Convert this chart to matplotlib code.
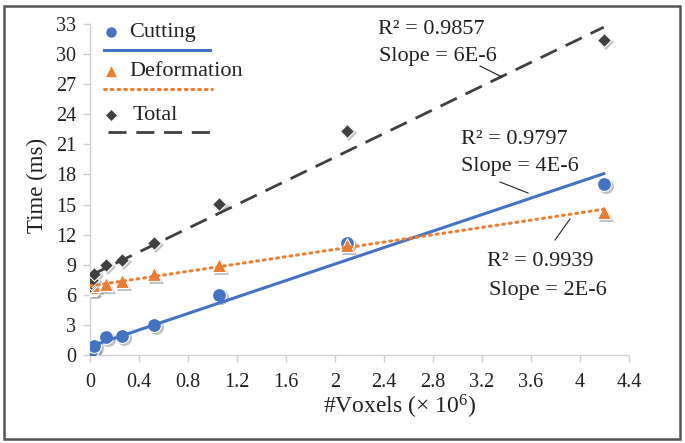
import numpy as np
import matplotlib
matplotlib.use("Agg")
import matplotlib.pyplot as plt
from matplotlib.transforms import offset_copy
from matplotlib.patches import Rectangle

plt.rcParams['font.family'] = ['Liberation Serif', 'DejaVu Serif']
plt.rcParams['mathtext.fontset'] = 'custom'
plt.rcParams['mathtext.rm'] = 'Liberation Serif'
plt.rcParams['mathtext.it'] = 'Liberation Serif:italic'

# data (x in millions of voxels, times in ms)
voxels = [0.004, 0.008, 0.016, 0.033, 0.131, 0.262, 0.524, 1.049, 2.097, 4.194]
cutting = [0.1, 0.3, 0.5, 0.9, 1.8, 1.9, 3.0, 6.0, 11.2, 17.0]
deformation = [6.6, 6.7, 6.8, 7.0, 7.1, 7.4, 8.1, 9.0, 11.0, 14.3]
total = [6.9, 7.2, 7.5, 8.1, 9.0, 9.5, 11.2, 15.1, 22.3, 31.4]
series_names = ["Cutting", "Deformation", "Total"]
r2_labels = ["R\u00b2 = 0.9797", "R\u00b2 = 0.9939", "R\u00b2 = 0.9857"]
slope_labels = ["Slope = 4E-6", "Slope = 2E-6", "Slope = 6E-6"]
xticks = [0, 0.4, 0.8, 1.2, 1.6, 2.0, 2.4, 2.8, 3.2, 3.6, 4.0, 4.4]
yticks = [0, 3, 6, 9, 12, 15, 18, 21, 24, 27, 30, 33]

W, H = 685, 443
fig = plt.figure(figsize=(W / 100, H / 100), dpi=100)

def fx(x):
    return x / W

def fy(y):
    return 1 - y / H

ax = fig.add_axes([fx(90), fy(355), (629 - 90) / W, (355 - 24) / H])

colors = ["#4472C4", "#ED7D31", "#404040"]
markers = ["o", "^", "D"]
msizes = [10, 10, 7.5]
styles = [dict(linestyle='-', linewidth=2.2),
          dict(linestyle=(0, (0.6, 1.6)), linewidth=2.2, dash_capstyle='round'),
          dict(linestyle=(0, (6.5, 3.5)), linewidth=2.0)]

x = np.array(voxels)
shadow_tr = offset_copy(ax.transData, fig=fig, x=2.0, y=-2.0, units='dots')
for vals, c, m, ms in zip([cutting, deformation, total], colors, markers, msizes):
    ax.plot(x, vals, linestyle='none', marker=m, markersize=ms + 0.8, markerfacecolor='#7a7a7a',
            markeredgewidth=0, alpha=0.45, zorder=2.5, transform=shadow_tr)
for vals, c, m, ms in zip([cutting, deformation, total], colors, markers, msizes):
    ax.plot(x, vals, linestyle='none', marker=m, markersize=ms, markerfacecolor=c,
            markeredgecolor='white', markeredgewidth=0.8, zorder=3)

for vals, c, st in zip([cutting, deformation, total], colors, styles):
    k, b = np.polyfit(x, vals, 1)
    xs = np.array([x.min(), x.max()])
    ax.plot(xs, k * xs + b, color=c, zorder=4, **st)

ax.set_xlim(0, 4.4)
ax.set_ylim(0, 33)
ax.set_xticks(xticks)
ax.set_xticklabels([f"{v:g}" for v in xticks])
ax.set_yticks(yticks)
for s in ['top', 'right']:
    ax.spines[s].set_visible(False)
for s in ['left', 'bottom']:
    ax.spines[s].set_color('#d0d0d0')
    ax.spines[s].set_linewidth(1.0)
ax.tick_params(axis='both', direction='out', length=5, width=1, color='#d0d0d0',
               labelsize=14.5, labelcolor='#222222')
ax.tick_params(axis='x', pad=8)
ax.tick_params(axis='y', pad=5)

fig.text(fx(400), fy(407), "#Voxels (\u00d7 10$^{6}$)", fontsize=17, color='#222222',
         ha='center', va='center')
fig.text(fx(37), fy(185), "Time (ms)", fontsize=16.5, color='#222222',
         ha='center', va='center', rotation=90)

# legend drawn manually (Excel style: marker + text above line sample)
leg_rows = [(32, 50, 104, 210, 129), (71, 89, 104, 212, 129), (115, 132, 108, 212, 133)]
for (ym, yl, x0, x1, xt), name, c, m, ms, st in zip(leg_rows, series_names, colors, markers, msizes, styles):
    fig.lines.append(plt.Line2D([fx(111)], [fy(ym)], transform=fig.transFigure, marker=m,
                                markersize=ms * 0.8, color=c, markeredgecolor='white',
                                markeredgewidth=0.5, linestyle='none'))
    fig.lines.append(plt.Line2D([fx(x0), fx(x1)], [fy(yl), fy(yl)], transform=fig.transFigure,
                                color=c, **st))
    fig.text(fx(xt), fy(ym), name, fontsize=16, va='center', ha='left', color='#222222')

# annotations: (r2 pos, slope pos, leader line)
ann = [((461, 140), (461, 167), ((500, 182), (528, 193))),
       ((487, 262), (489, 291), ((555, 240), (570, 219))),
       ((378, 30), (379, 57), ((480, 66), (502, 77)))]
for (r2p, slp, lead), r2t, slt in zip(ann, r2_labels, slope_labels):
    fig.text(fx(r2p[0]), fy(r2p[1]), r2t, fontsize=16, va='center', ha='left', color='#222222')
    fig.text(fx(slp[0]), fy(slp[1]), slt, fontsize=16, va='center', ha='left', color='#222222')
    fig.lines.append(plt.Line2D([fx(lead[0][0]), fx(lead[1][0])], [fy(lead[0][1]), fy(lead[1][1])],
                                transform=fig.transFigure, color='#222222', linewidth=0.8))

# outer frame
fig.patches.append(Rectangle((fx(4), fy(439)), (680 - 4) / W, (439 - 6) / H, transform=fig.transFigure,
                             fill=False, edgecolor='#555555', linewidth=1.8))

fig.savefig("out.png", dpi=100)
